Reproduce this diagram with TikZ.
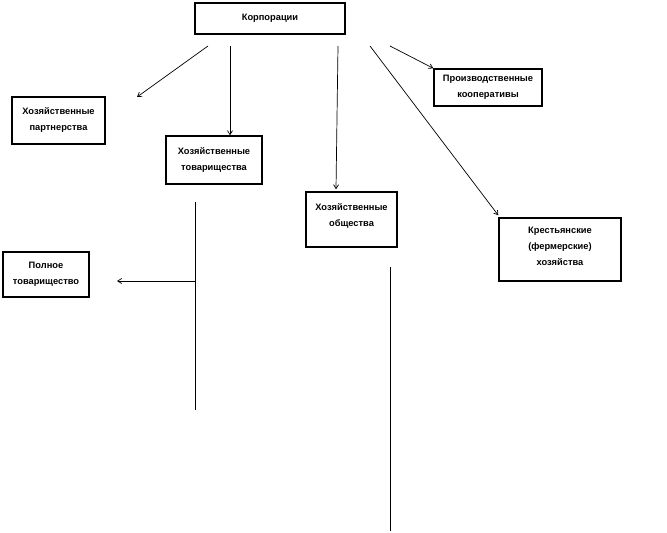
\documentclass[tikz,border=0pt]{standalone}
\usepackage{fontspec}
\setmainfont{Liberation Sans}
\usetikzlibrary{arrows.meta,calc}

\begin{document}
\begin{tikzpicture}[x=1pt, y=-1pt,
  box/.style={draw, rectangle, line width=1.4pt, inner sep=0pt, align=center, font=\fontsize{9.3}{16}\selectfont\bfseries},
  arr/.style={-{Straight Barb[length=4pt,width=5pt]}, line width=0.7pt},
  ln/.style={line width=0.9pt}
]
\useasboundingbox (0,0) rectangle (667,533);

\node[box, minimum width=150pt, minimum height=31pt] (corp) at (270,18.5) {Корпорации};
\node[box, minimum width=93pt, minimum height=47pt] (partn) at (58.5,120.5) {Хозяйственные\\партнерства};
\node[box, minimum width=96pt, minimum height=48pt] (tovar) at (214,160) {Хозяйственные\\товарищества};
\node[box, minimum width=91pt, minimum height=55pt, text depth=8pt] (obsch) at (351.5,219.5) {Хозяйственные\\общества};
\node[box, minimum width=108pt, minimum height=37pt] (koop) at (488,87.5) {Производственные\\кооперативы};
\node[box, minimum width=122pt, minimum height=63pt, text depth=6pt] (kfh) at (560,249.5) {Крестьянские\\(фермерские)\\хозяйства};
\node[box, minimum width=86pt, minimum height=45pt] (poln) at (46,274.5) {Полное\\товарищество};

% free ends of the connectors
\coordinate (c1) at (208,46);
\coordinate (c2) at (230,46);
\coordinate (c3) at (338,46);
\coordinate (c4) at (370,46);
\coordinate (c5) at (390,46);
\coordinate (p1) at (137,97);
\coordinate (t1) at (195,202);
\coordinate (t2) at (195,410);
\coordinate (t3) at (195,281);
\coordinate (pl) at (117,281);
\coordinate (o1) at (390,267);
\coordinate (o2) at (390,531);

\draw[arr] (c1) -- (p1);
\draw[arr] (c2) -- (c2 |- tovar.north);
\draw[arr] (c3) -- ($(obsch.north)+(-15.5,-2)$);
\draw[arr] (c4) -- ($(kfh.north west)+(0,-2)$);
\draw[arr] (c5) -- (koop.north west);

\draw[ln] (t1) -- (t2);
\draw[arr] (t3) -- (pl);
\draw[ln] (o1) -- (o2);
\end{tikzpicture}
\end{document}
